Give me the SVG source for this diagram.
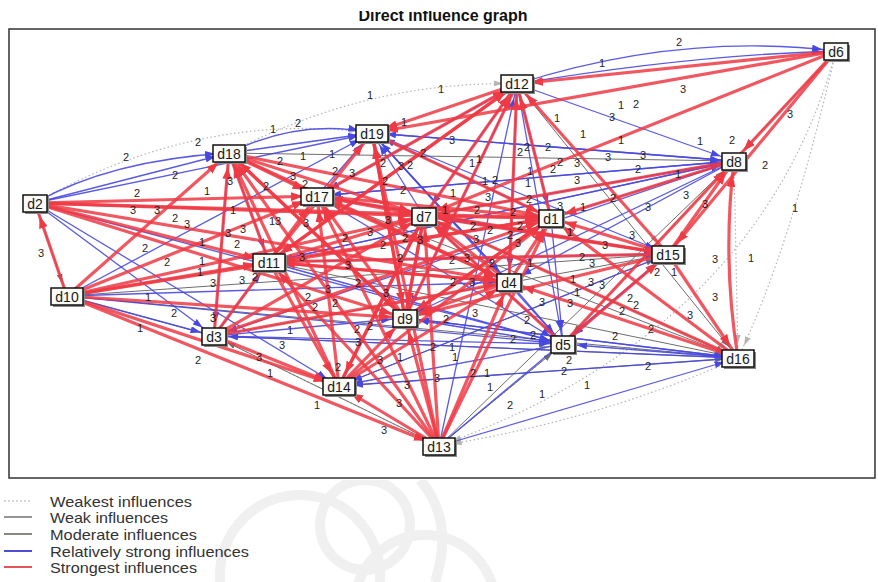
<svg xmlns="http://www.w3.org/2000/svg" width="878" height="582" viewBox="0 0 878 582">
<style>
.r{fill:none;stroke:#ee3a44;stroke-width:3.2;stroke-opacity:0.85;marker-end:url(#mr)}
.b{fill:none;stroke:#4848e0;stroke-width:1.3;stroke-opacity:0.9;marker-end:url(#mb)}
.g{fill:none;stroke:#6e6e6e;stroke-width:1;marker-end:url(#mg)}
.d{fill:none;stroke:#b4b4b4;stroke-width:1.2;stroke-dasharray:1.5 2.5;marker-end:url(#md)}
.lb text{font-family:"Liberation Sans",Arial,sans-serif;font-size:11px;fill:#1e1e1e;text-anchor:middle;dominant-baseline:central}
.nb{fill:#fbfbf7;stroke:#111;stroke-width:1.5}
.ns{fill:#8a8a8a}
.nt{font-family:"Liberation Sans",Arial,sans-serif;font-size:14px;fill:#1a1a1a;text-anchor:middle}
.lg{font-family:"Liberation Sans",Arial,sans-serif;font-size:15px;fill:#333}
.wm{fill:none;stroke:#f0f0f0;stroke-width:10}
</style>
<defs>
<marker id="mr" viewBox="0 0 12 9" refX="26" refY="4.5" markerWidth="12" markerHeight="9" markerUnits="userSpaceOnUse" orient="auto"><path d="M0,0 L12,4.5 L0,9 z" fill="#ee3a44"/></marker>
<marker id="mb" viewBox="0 0 10 7" refX="24" refY="3.5" markerWidth="10" markerHeight="7" markerUnits="userSpaceOnUse" orient="auto"><path d="M0,0 L10,3.5 L0,7 z" fill="#4848e0"/></marker>
<marker id="mg" viewBox="0 0 9 6" refX="23" refY="3" markerWidth="9" markerHeight="6" markerUnits="userSpaceOnUse" orient="auto"><path d="M0,0 L9,3 L0,6 z" fill="#6e6e6e"/></marker>
<marker id="md" viewBox="0 0 9 6" refX="23" refY="3" markerWidth="9" markerHeight="6" markerUnits="userSpaceOnUse" orient="auto"><path d="M0,0 L9,3 L0,6 z" fill="#b4b4b4"/></marker>
<clipPath id="tc"><rect x="0" y="11" width="878" height="30"/></clipPath>
<clipPath id="wc"><rect x="0" y="480" width="878" height="102"/></clipPath>
</defs>
<rect width="878" height="582" fill="#ffffff"/>
<g id="watermark" clip-path="url(#wc)">
<circle class="wm" cx="300" cy="575" r="80"/>
<circle class="wm" cx="425" cy="605" r="70"/>
<circle class="wm" cx="365" cy="525" r="45"/>
<path class="wm" d="M420,480 Q455,520 435,582"/>
</g>
<text x="443" y="21" clip-path="url(#tc)" font-family="'Liberation Sans',Arial,sans-serif" font-size="16" font-weight="bold" fill="#111" text-anchor="middle">Direct influence graph</text>
<rect x="9" y="29" width="866" height="449" fill="none" stroke="#333" stroke-width="1.5"/>
<g id="connectors">
<g id="dotted">
<path class="d" d="M229,153 Q370,80 517,84"/>
<path class="d" d="M35,203 Q200,110 372,133"/>
<path class="d" d="M836,51 Q790,250 738,358"/>
<path class="d" d="M836,51 Q760,330 439,446"/>
<path class="d" d="M734,161 L738,358"/>
<path class="d" d="M738,358 Q600,420 439,446"/>
<path class="d" d="M372,133 L734,161"/>
<path class="d" d="M214,336 L439,446"/>
<path class="d" d="M339,386 L563,344"/>
<path class="d" d="M269,262 L563,344"/>
<path class="d" d="M317,196 L509,282"/>
<path class="d" d="M424,216 L563,344"/>
<path class="d" d="M517,84 L668,254"/>
<path class="d" d="M563,344 L738,358"/>
<path class="d" d="M405,318 L563,344"/>
<path class="d" d="M229,153 L372,133"/>
<path class="d" d="M551,218 L738,358"/>
<path class="d" d="M439,446 L563,344"/>
</g>
<g id="gray">
<path class="g" d="M836,51 L563,344"/>
<path class="g" d="M67,296 L738,358"/>
<path class="g" d="M214,336 L738,358"/>
<path class="g" d="M339,386 L738,358"/>
<path class="g" d="M439,446 L734,161"/>
<path class="g" d="M517,84 L738,358"/>
<path class="g" d="M229,153 L734,161"/>
<path class="g" d="M269,262 L738,358"/>
<path class="g" d="M339,386 L668,254"/>
<path class="g" d="M214,336 L668,254"/>
<path class="g" d="M67,296 L668,254"/>
<path class="g" d="M317,196 L738,358"/>
<path class="g" d="M424,216 L738,358"/>
<path class="g" d="M439,446 L214,336"/>
<path class="g" d="M35,203 L67,296"/>
<path class="g" d="M67,296 L214,336"/>
<path class="g" d="M439,446 L563,344"/>
</g>
<g id="blue">
<path class="b" d="M517,84 Q680,32 836,51"/>
<path class="b" d="M517,84 Q690,55 836,51"/>
<path class="b" d="M229,153 Q300,118 372,133"/>
<path class="b" d="M35,203 Q110,160 229,153"/>
<path class="b" d="M517,84 L734,161"/>
<path class="b" d="M734,161 L372,133"/>
<path class="b" d="M734,161 L405,318"/>
<path class="b" d="M734,161 L509,282"/>
<path class="b" d="M734,161 L269,262"/>
<path class="b" d="M734,161 L214,336"/>
<path class="b" d="M734,161 L317,196"/>
<path class="b" d="M517,84 L551,218"/>
<path class="b" d="M517,84 L509,282"/>
<path class="b" d="M517,84 L563,344"/>
<path class="b" d="M517,84 L424,216"/>
<path class="b" d="M517,84 L405,318"/>
<path class="b" d="M517,84 L317,196"/>
<path class="b" d="M67,296 L214,336"/>
<path class="b" d="M67,296 L563,344"/>
<path class="b" d="M67,296 L509,282"/>
<path class="b" d="M67,296 L372,133"/>
<path class="b" d="M214,336 L405,318"/>
<path class="b" d="M214,336 L563,344"/>
<path class="b" d="M563,344 L405,318"/>
<path class="b" d="M563,344 L339,386"/>
<path class="b" d="M738,358 L563,344"/>
<path class="b" d="M439,446 L668,254"/>
<path class="b" d="M439,446 L738,358"/>
<path class="b" d="M439,446 L517,84"/>
<path class="b" d="M509,282 L563,344"/>
<path class="b" d="M424,216 L563,344"/>
<path class="b" d="M551,218 L563,344"/>
<path class="b" d="M35,203 L214,336"/>
<path class="b" d="M35,203 L339,386"/>
<path class="b" d="M35,203 L229,153"/>
<path class="b" d="M35,203 L372,133"/>
<path class="b" d="M35,203 L563,344"/>
<path class="b" d="M229,153 L269,262"/>
<path class="b" d="M229,153 L214,336"/>
<path class="b" d="M372,133 L509,282"/>
<path class="b" d="M372,133 L563,344"/>
<path class="b" d="M372,133 L668,254"/>
<path class="b" d="M372,133 L734,161"/>
<path class="b" d="M317,196 L668,254"/>
<path class="b" d="M317,196 L734,161"/>
<path class="b" d="M269,262 L668,254"/>
<path class="b" d="M269,262 L734,161"/>
<path class="b" d="M738,358 L405,318"/>
<path class="b" d="M738,358 L339,386"/>
<path class="b" d="M738,358 L214,336"/>
<path class="b" d="M668,254 L563,344"/>
<path class="b" d="M668,254 L339,386"/>
<path class="b" d="M424,216 L734,161"/>
<path class="b" d="M551,218 L734,161"/>
<path class="b" d="M405,318 L738,358"/>
<path class="b" d="M317,196 L563,344"/>
<path class="b" d="M269,262 L563,344"/>
<path class="b" d="M424,216 L668,254"/>
<path class="b" d="M551,218 L372,133"/>
<path class="b" d="M509,282 L372,133"/>
<path class="b" d="M229,153 L372,133"/>
<path class="b" d="M317,196 L372,133"/>
<path class="b" d="M424,216 L372,133"/>
<path class="b" d="M214,336 L269,262"/>
</g>
<g id="red">
<path class="r" d="M836,51 L517,84"/>
<path class="r" d="M836,51 L372,133"/>
<path class="r" d="M836,51 L424,216"/>
<path class="r" d="M836,51 L734,161"/>
<path class="r" d="M836,51 L668,254"/>
<path class="r" d="M35,203 L317,196"/>
<path class="r" d="M35,203 L269,262"/>
<path class="r" d="M35,203 L405,318"/>
<path class="r" d="M35,203 L509,282"/>
<path class="r" d="M35,203 L424,216"/>
<path class="r" d="M35,203 L551,218"/>
<path class="r" d="M67,296 L35,203"/>
<path class="r" d="M67,296 L229,153"/>
<path class="r" d="M67,296 L317,196"/>
<path class="r" d="M67,296 L424,216"/>
<path class="r" d="M67,296 L269,262"/>
<path class="r" d="M67,296 L551,218"/>
<path class="r" d="M67,296 L339,386"/>
<path class="r" d="M67,296 L439,446"/>
<path class="r" d="M67,296 L405,318"/>
<path class="r" d="M214,336 L229,153"/>
<path class="r" d="M214,336 L317,196"/>
<path class="r" d="M214,336 L339,386"/>
<path class="r" d="M214,336 L509,282"/>
<path class="r" d="M214,336 L424,216"/>
<path class="r" d="M214,336 L551,218"/>
<path class="r" d="M439,446 L424,216"/>
<path class="r" d="M439,446 L405,318"/>
<path class="r" d="M439,446 L339,386"/>
<path class="r" d="M439,446 L269,262"/>
<path class="r" d="M439,446 L317,196"/>
<path class="r" d="M439,446 L372,133"/>
<path class="r" d="M439,446 L551,218"/>
<path class="r" d="M439,446 L509,282"/>
<path class="r" d="M439,446 L229,153"/>
<path class="r" d="M668,254 L424,216"/>
<path class="r" d="M668,254 L551,218"/>
<path class="r" d="M668,254 L517,84"/>
<path class="r" d="M668,254 L734,161"/>
<path class="r" d="M668,254 L738,358"/>
<path class="r" d="M668,254 L405,318"/>
<path class="r" d="M668,254 L269,262"/>
<path class="r" d="M668,254 L317,196"/>
<path class="r" d="M738,358 Q722,260 734,161"/>
<path class="r" d="M738,358 L551,218"/>
<path class="r" d="M738,358 L509,282"/>
<path class="r" d="M738,358 L424,216"/>
<path class="r" d="M563,344 L668,254"/>
<path class="r" d="M563,344 L734,161"/>
<path class="r" d="M563,344 L424,216"/>
<path class="r" d="M405,318 L517,84"/>
<path class="r" d="M509,282 L517,84"/>
<path class="r" d="M317,196 L517,84"/>
<path class="r" d="M269,262 L517,84"/>
<path class="r" d="M405,318 L372,133"/>
<path class="r" d="M269,262 L372,133"/>
<path class="r" d="M339,386 L229,153"/>
<path class="r" d="M269,262 L229,153"/>
<path class="r" d="M405,318 L229,153"/>
<path class="r" d="M339,386 L317,196"/>
<path class="r" d="M339,386 L424,216"/>
<path class="r" d="M339,386 L551,218"/>
<path class="r" d="M339,386 L509,282"/>
<path class="r" d="M339,386 L405,318"/>
<path class="r" d="M405,318 L317,196"/>
<path class="r" d="M405,318 L424,216"/>
<path class="r" d="M405,318 L551,218"/>
<path class="r" d="M269,262 L424,216"/>
<path class="r" d="M269,262 L551,218"/>
<path class="r" d="M269,262 L509,282"/>
<path class="r" d="M269,262 L339,386"/>
<path class="r" d="M317,196 L551,218"/>
<path class="r" d="M317,196 L424,216"/>
<path class="r" d="M509,282 L424,216"/>
<path class="r" d="M509,282 L551,218"/>
<path class="r" d="M509,282 L317,196"/>
<path class="r" d="M509,282 L269,262"/>
<path class="r" d="M509,282 L405,318"/>
<path class="r" d="M551,218 L424,216"/>
<path class="r" d="M551,218 L405,318"/>
<path class="r" d="M551,218 L517,84"/>
<path class="r" d="M424,216 L405,318"/>
<path class="r" d="M424,216 L517,84"/>
<path class="r" d="M424,216 L339,386"/>
<path class="r" d="M734,161 L424,216"/>
<path class="r" d="M734,161 L551,218"/>
<path class="r" d="M229,153 L317,196"/>
<path class="r" d="M229,153 L424,216"/>
<path class="r" d="M229,153 L551,218"/>
<path class="r" d="M229,153 L509,282"/>
<path class="r" d="M229,153 L405,318"/>
<path class="r" d="M372,133 L405,318"/>
<path class="r" d="M372,133 L551,218"/>
<path class="r" d="M517,84 L372,133"/>
<path class="r" d="M517,84 L269,262"/>
</g>
</g>
<g class="lb" id="edge-labels">
<text x="679" y="42">2</text><text x="602" y="63">1</text><text x="370" y="95">1</text><text x="441" y="89">1</text><text x="273" y="129">1</text><text x="298" y="123">2</text><text x="683" y="89">3</text><text x="636" y="104">2</text><text x="621" y="105">1</text><text x="612" y="117">3</text><text x="557" y="118">1</text><text x="583" y="134">1</text><text x="621" y="140">1</text><text x="700" y="141">1</text><text x="732" y="140">2</text><text x="765" y="165">2</text><text x="790" y="114">3</text><text x="643" y="155">3</text><text x="638" y="169">2</text><text x="678" y="174">1</text><text x="686" y="195">3</text><text x="705" y="204">3</text><text x="795" y="208">1</text>
<text x="198" y="142">2</text><text x="126" y="157">2</text><text x="175" y="175">2</text><text x="303" y="156">1</text><text x="332" y="154">1</text><text x="280" y="161">2</text><text x="335" y="171">2</text><text x="293" y="176">3</text><text x="230" y="181">3</text><text x="266" y="186">2</text><text x="305" y="184">2</text><text x="137" y="193">2</text><text x="207" y="191">1</text><text x="133" y="210">3</text><text x="157" y="210">3</text><text x="175" y="218">2</text><text x="187" y="224">3</text><text x="233" y="210">1</text><text x="243" y="229">3</text><text x="228" y="233">3</text><text x="275" y="221">13</text><text x="306" y="223">3</text><text x="404" y="122">1</text><text x="452" y="140">3</text><text x="352" y="173">3</text><text x="383" y="163">2</text><text x="401" y="166">3</text><text x="410" y="165">2</text><text x="423" y="153">2</text><text x="403" y="190">2</text><text x="385" y="181">2</text><text x="345" y="238">2</text><text x="370" y="232">3</text><text x="388" y="220">3</text><text x="383" y="245">2</text><text x="405" y="238">2</text><text x="420" y="240">3</text><text x="445" y="210">1</text><text x="453" y="193">1</text>
<text x="520" y="152">2</text><text x="527" y="147">2</text><text x="548" y="147">2</text><text x="472" y="163">1</text><text x="479" y="159">1</text><text x="553" y="169">2</text><text x="560" y="162">2</text><text x="577" y="163">3</text><text x="608" y="157">3</text><text x="530" y="171">1</text><text x="495" y="180">2</text><text x="485" y="181">1</text><text x="577" y="180">3</text><text x="528" y="183">1</text><text x="488" y="197">3</text><text x="529" y="199">2</text><text x="613" y="198">2</text><text x="648" y="207">3</text><text x="583" y="207">1</text><text x="477" y="210">2</text><text x="513" y="212">2</text><text x="520" y="226">2</text><text x="473" y="226">2</text><text x="476" y="239">3</text><text x="490" y="230">2</text><text x="510" y="235">2</text><text x="518" y="243">3</text><text x="560" y="206">3</text><text x="570" y="232">1</text><text x="632" y="235">3</text><text x="605" y="245">3</text>
<text x="41" y="253">3</text><text x="145" y="248">2</text><text x="202" y="242">1</text><text x="237" y="244">2</text><text x="167" y="262">2</text><text x="202" y="261">1</text><text x="200" y="272">1</text><text x="213" y="283">3</text><text x="242" y="280">3</text><text x="255" y="277">2</text><text x="148" y="297">1</text><text x="174" y="313">2</text><text x="140" y="328">1</text><text x="198" y="360">2</text><text x="259" y="357">3</text><text x="270" y="373">1</text><text x="282" y="345">3</text><text x="290" y="330">1</text><text x="213" y="318">3</text><text x="317" y="405">1</text><text x="384" y="430">3</text><text x="407" y="385">3</text><text x="399" y="403">3</text><text x="338" y="367">2</text><text x="380" y="360">3</text><text x="302" y="257">3</text><text x="348" y="265">3</text><text x="400" y="258">2</text><text x="328" y="289">3</text><text x="358" y="283">2</text><text x="308" y="297">2</text><text x="315" y="307">2</text><text x="335" y="303">2</text><text x="386" y="293">3</text><text x="357" y="329">2</text><text x="370" y="326">2</text><text x="358" y="342">3</text><text x="400" y="357">1</text><text x="433" y="347">2</text><text x="452" y="347">1</text><text x="437" y="378">3</text><text x="446" y="319">2</text>
<text x="452" y="260">2</text><text x="467" y="258">3</text><text x="472" y="282">3</text><text x="453" y="282">2</text><text x="492" y="263">2</text><text x="530" y="263">1</text><text x="582" y="257">2</text><text x="592" y="263">3</text><text x="573" y="279">1</text><text x="577" y="292">1</text><text x="591" y="282">3</text><text x="602" y="285">3</text><text x="542" y="302">3</text><text x="570" y="303">3</text><text x="630" y="298">2</text><text x="636" y="305">2</text><text x="622" y="311">2</text><text x="527" y="320">2</text><text x="533" y="335">2</text><text x="513" y="339">2</text><text x="615" y="336">2</text><text x="651" y="329">2</text><text x="569" y="360">2</text><text x="564" y="371">2</text><text x="648" y="366">2</text><text x="473" y="373">2</text><text x="487" y="373">1</text><text x="490" y="387">1</text><text x="587" y="385">1</text><text x="542" y="394">1</text><text x="510" y="405">2</text><text x="455" y="357">1</text><text x="715" y="259">3</text><text x="751" y="258">1</text><text x="715" y="297">3</text><text x="657" y="272">2</text><text x="674" y="272">1</text><text x="690" y="315">3</text><text x="475" y="313">3</text>
</g>
<g id="d6"><rect class="ns" x="826" y="45" width="24" height="17"/><rect class="nb" x="824" y="43" width="24" height="17"/><text class="nt" x="836" y="57">d6</text></g>
<g id="d12"><rect class="ns" x="503" y="77" width="32" height="17"/><rect class="nb" x="501" y="75" width="32" height="17"/><text class="nt" x="517" y="89">d12</text></g>
<g id="d19"><rect class="ns" x="358" y="127" width="32" height="17"/><rect class="nb" x="356" y="125" width="32" height="17"/><text class="nt" x="372" y="139">d19</text></g>
<g id="d18"><rect class="ns" x="215" y="147" width="32" height="17"/><rect class="nb" x="213" y="145" width="32" height="17"/><text class="nt" x="229" y="159">d18</text></g>
<g id="d8"><rect class="ns" x="724" y="155" width="24" height="17"/><rect class="nb" x="722" y="153" width="24" height="17"/><text class="nt" x="734" y="167">d8</text></g>
<g id="d17"><rect class="ns" x="303" y="190" width="32" height="17"/><rect class="nb" x="301" y="188" width="32" height="17"/><text class="nt" x="317" y="202">d17</text></g>
<g id="d2"><rect class="ns" x="25" y="197" width="24" height="17"/><rect class="nb" x="23" y="195" width="24" height="17"/><text class="nt" x="35" y="209">d2</text></g>
<g id="d7"><rect class="ns" x="414" y="210" width="24" height="17"/><rect class="nb" x="412" y="208" width="24" height="17"/><text class="nt" x="424" y="222">d7</text></g>
<g id="d1"><rect class="ns" x="541" y="212" width="24" height="17"/><rect class="nb" x="539" y="210" width="24" height="17"/><text class="nt" x="551" y="224">d1</text></g>
<g id="d15"><rect class="ns" x="654" y="248" width="32" height="17"/><rect class="nb" x="652" y="246" width="32" height="17"/><text class="nt" x="668" y="260">d15</text></g>
<g id="d11"><rect class="ns" x="255" y="256" width="32" height="17"/><rect class="nb" x="253" y="254" width="32" height="17"/><text class="nt" x="269" y="268">d11</text></g>
<g id="d4"><rect class="ns" x="499" y="276" width="24" height="17"/><rect class="nb" x="497" y="274" width="24" height="17"/><text class="nt" x="509" y="288">d4</text></g>
<g id="d10"><rect class="ns" x="53" y="290" width="32" height="17"/><rect class="nb" x="51" y="288" width="32" height="17"/><text class="nt" x="67" y="302">d10</text></g>
<g id="d9"><rect class="ns" x="395" y="312" width="24" height="17"/><rect class="nb" x="393" y="310" width="24" height="17"/><text class="nt" x="405" y="324">d9</text></g>
<g id="d3"><rect class="ns" x="204" y="330" width="24" height="17"/><rect class="nb" x="202" y="328" width="24" height="17"/><text class="nt" x="214" y="342">d3</text></g>
<g id="d5"><rect class="ns" x="553" y="338" width="24" height="17"/><rect class="nb" x="551" y="336" width="24" height="17"/><text class="nt" x="563" y="350">d5</text></g>
<g id="d16"><rect class="ns" x="724" y="352" width="32" height="17"/><rect class="nb" x="722" y="350" width="32" height="17"/><text class="nt" x="738" y="364">d16</text></g>
<g id="d14"><rect class="ns" x="325" y="380" width="32" height="17"/><rect class="nb" x="323" y="378" width="32" height="17"/><text class="nt" x="339" y="392">d14</text></g>
<g id="d13"><rect class="ns" x="425" y="440" width="32" height="17"/><rect class="nb" x="423" y="438" width="32" height="17"/><text class="nt" x="439" y="452">d13</text></g>
<g id="legend">
<line x1="4" y1="501" x2="32" y2="501" stroke="#c8c8c8" stroke-width="1.5" stroke-dasharray="2 2"/>
<line x1="4" y1="517" x2="32" y2="517" stroke="#707070" stroke-width="1.5"/>
<line x1="4" y1="534" x2="32" y2="534" stroke="#606058" stroke-width="1.5"/>
<line x1="4" y1="551" x2="32" y2="551" stroke="#3a3ad0" stroke-width="1.8"/>
<line x1="4" y1="567" x2="32" y2="567" stroke="#e04048" stroke-width="1.8"/>
<text class="lg" x="50" y="507" textLength="142" lengthAdjust="spacingAndGlyphs">Weakest influences</text>
<text class="lg" x="50" y="523" textLength="118" lengthAdjust="spacingAndGlyphs">Weak influences</text>
<text class="lg" x="50" y="540" textLength="147" lengthAdjust="spacingAndGlyphs">Moderate influences</text>
<text class="lg" x="50" y="557" textLength="199" lengthAdjust="spacingAndGlyphs">Relatively strong influences</text>
<text class="lg" x="50" y="573" textLength="147" lengthAdjust="spacingAndGlyphs">Strongest influences</text>
</g>
</svg>
